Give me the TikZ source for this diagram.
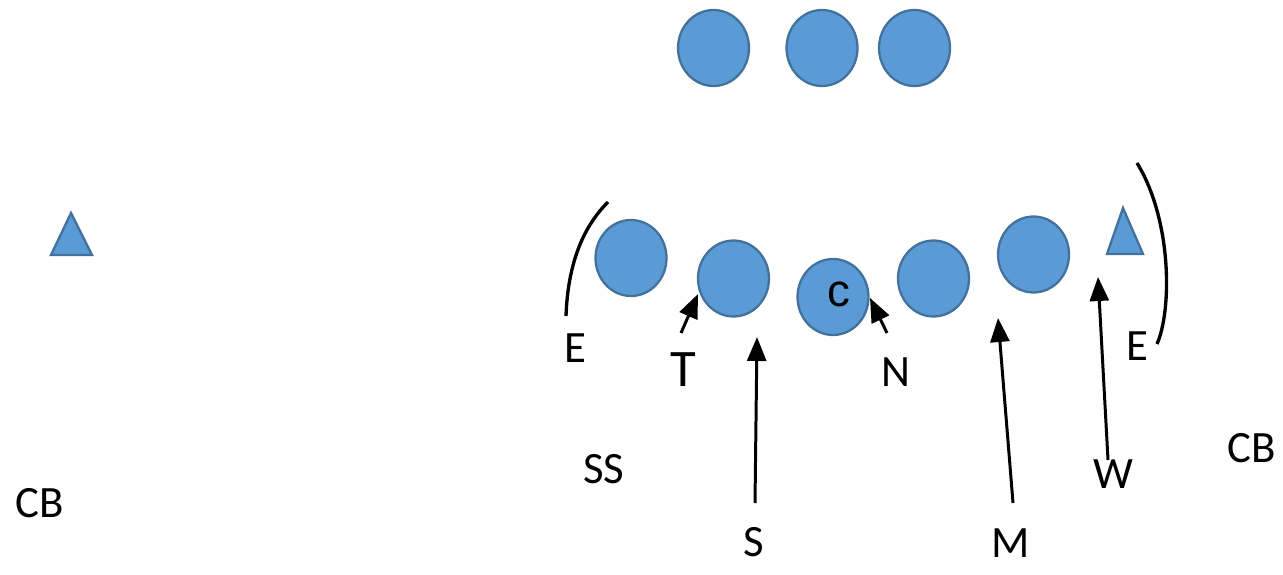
\documentclass[tikz,border=0pt]{standalone}
\usepackage{fontspec}
\newfontfamily\labfont{Carlito}
\newfontfamily\cfont{Liberation Sans}
\usetikzlibrary{shapes.geometric,arrows.meta}
\definecolor{pfill}{HTML}{5B9BD5}
\definecolor{pline}{HTML}{41719C}
\tikzset{
  player/.style={ellipse,draw=pline,fill=pfill,line width=1.3pt,minimum width=1.42cm,minimum height=1.52cm,inner sep=0pt},
  tri/.style={draw=pline,fill=pfill,line width=1.3pt,line join=miter},
  lab/.style={inner sep=0pt,font=\labfont\fontsize{25.5}{30}\selectfont},
  biglab/.style={inner sep=0pt,font=\labfont\fontsize{30}{34}\selectfont},
  blit/.style={line width=1.7pt,-{Triangle[length=0.48cm,width=0.38cm]}},
  arcline/.style={line width=1.9pt}
}
\begin{document}
\begin{tikzpicture}[x=0.02cm,y=-0.02cm]
\useasboundingbox (0,0) rectangle (1283,574);
% backfield
\node[player] (b1) at (713.5,48) {};
\node[player] (b2) at (822,48) {};
\node[player] (b3) at (914.5,48) {};
% line
\node[player] (l1) at (631,258) {};
\node[player] (l2) at (733.5,278.5) {};
\node[player] (l3) at (833,297) {};
\node[player] (l4) at (933.5,278.5) {};
\node[player] (l5) at (1033.5,254.5) {};
\node[inner sep=0pt,font=\cfont\fontsize{26}{30}\selectfont] (ctext) at (838.5,294.5) {c};
% triangles
\draw[tri] (71,213) -- (92,255) -- (51,255) -- cycle;
\draw[tri] (1123,208) -- (1143,254) -- (1107,254) -- cycle;
% arcs
\coordinate (la1) at (566,316);
\coordinate (la2) at (608,202);
\draw[arcline] (la1) .. controls (568,260) and (585,225) .. (la2);
\coordinate (ra1) at (1137,163);
\coordinate (ra2) at (1157,344);
\draw[arcline] (ra1) .. controls (1172,220) and (1172,310) .. (ra2);
% labels
\node[lab] (E1) at (575,348) {E};
\node[biglab] (T) at (683,370) {T};
\node[lab] (N) at (896,372) {N};
\node[lab] (E2) at (1137,346) {E};
\node[lab] (CB2) at (1252,448) {CB};
\node[lab] (W) at (1113,474) {W};
\node[lab] (M) at (1011,543) {M};
\node[lab] (S) at (754,542) {S};
\node[lab] (SS) at (604,469) {SS};
\node[lab] (CB1) at (40,503) {CB};
% arrows
\coordinate (ta) at (681,333); \coordinate (tb) at (698,294);
\draw[blit] (ta) -- (tb);
\coordinate (sa) at (755,503); \coordinate (sb) at (757,337);
\draw[blit] (sa) -- (sb);
\coordinate (na) at (887,333); \coordinate (nb) at (870,298);
\draw[blit] (na) -- (nb);
\coordinate (ma) at (1013,503); \coordinate (mb) at (998,318);
\draw[blit] (ma) -- (mb);
\coordinate (wa) at (1108,460); \coordinate (wb) at (1098,277);
\draw[blit] (wa) -- (wb);
\end{tikzpicture}
\end{document}
